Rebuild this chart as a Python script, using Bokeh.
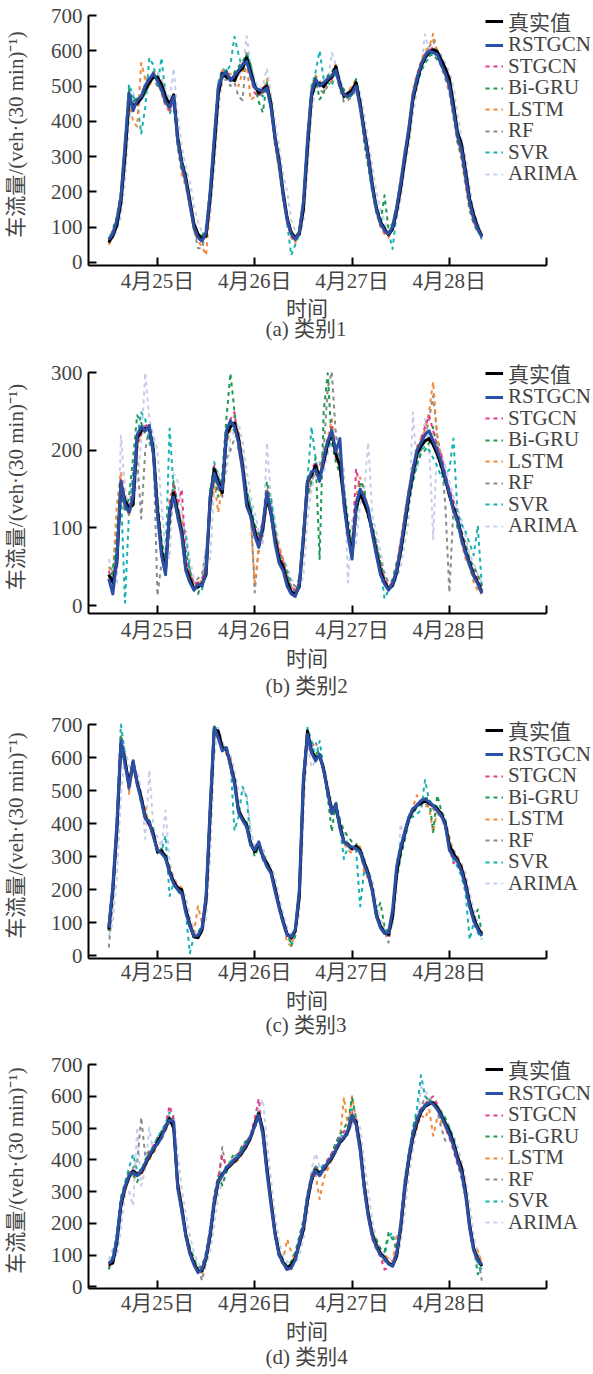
from bokeh.plotting import figure
from bokeh.models import FixedTicker, Legend, LegendItem, Title, Range1d
from bokeh.layouts import column
from bokeh.embed import file_html
from bokeh.resources import INLINE

FONT = "Liberation Serif, Noto Sans CJK SC"

# time axis: hours since 4月24日 00:00 (30-min data read at hourly points)
hours = list(range(12, 105))
tick_hours = [24, 48, 72, 96, 120]
tick_labels = ["4月25日", "4月26日", "4月27日", "4月28日", ""]
series_names = ["真实值", "RSTGCN", "STGCN", "Bi-GRU", "LSTM", "RF", "SVR", "ARIMA"]
captions = ["(a) 类别1", "(b) 类别2", "(c) 类别3", "(d) 类别4"]
x_label = "时间"
y_label = "车流量/(veh·(30 min)⁻¹)"

# ---------------- panel (a) ----------------
a_true = [57, 75, 105, 170, 300, 460, 445, 450, 465, 490,
          510, 525, 525, 505, 470, 448, 475, 355, 285, 240,
          175, 110, 80, 68, 75, 180, 320, 475, 535, 525,
          520, 515, 540, 550, 580, 540, 500, 480, 490, 500,
          450, 355, 290, 200, 125, 85, 70, 80, 150, 320,
          470, 510, 508, 498, 515, 525, 555, 505, 470, 480,
          488, 510, 450, 375, 305, 220, 155, 115, 95, 78,
          95, 145, 210, 290, 365, 460, 510, 555, 580, 595,
          603, 598, 575, 550, 520, 450, 370, 335, 260, 180,
          135, 100, 75]
a_rstgcn = [65, 80, 120, 185, 330, 480, 430, 460, 470, 500,
            520, 535, 515, 490, 455, 440, 470, 345, 280, 230,
            165, 100, 70, 60, 85, 200, 350, 495, 530, 540,
            515, 530, 545, 560, 570, 530, 495, 490, 485, 495,
            440, 350, 280, 190, 120, 80, 65, 85, 170, 345,
            480, 520, 500, 510, 520, 530, 545, 500, 475, 470,
            480, 500, 440, 365, 295, 210, 150, 110, 90, 80,
            100, 155, 225, 305, 380, 470, 520, 560, 585, 600,
            595, 590, 560, 535, 500, 430, 360, 320, 245, 170,
            125, 95, 72]
a_stgcn = [60, 85, 115, 190, 320, 470, 440, 455, 475, 505,
           515, 530, 520, 500, 460, 430, 465, 350, 270, 235,
           170, 105, 75, 55, 90, 195, 340, 490, 540, 530,
           525, 520, 540, 565, 575, 525, 480, 470, 495, 505,
           445, 345, 275, 195, 115, 75, 60, 90, 165, 335,
           485, 515, 505, 500, 525, 520, 550, 495, 480, 470,
           490, 505, 445, 360, 290, 215, 145, 105, 85, 75,
           105, 150, 220, 300, 370, 475, 515, 565, 590, 600,
           610, 585, 565, 540, 505, 440, 350, 310, 225, 160,
           115, 90, 70]
a_bigru = [55, 95, 130, 200, 340, 490, 455, 470, 460, 480,
           505, 540, 530, 490, 445, 450, 455, 330, 260, 250,
           180, 95, 70, 75, 100, 210, 360, 505, 520, 545,
           510, 540, 555, 570, 590, 560, 500, 455, 425, 510,
           460, 360, 270, 180, 130, 90, 60, 95, 180, 360,
           500, 525, 462, 480, 530, 540, 560, 510, 490, 462,
           475, 520, 460, 340, 270, 200, 140, 110, 190, 95,
           110, 160, 240, 310, 380, 480, 530, 545, 570, 585,
           590, 575, 560, 545, 510, 440, 345, 300, 230, 150,
           110, 85, 75]
a_lstm = [50, 70, 125, 195, 310, 455, 400, 385, 565, 520,
          495, 545, 510, 480, 440, 430, 460, 330, 250, 215,
          155, 90, 60, 45, 20, 170, 330, 500, 545, 535,
          535, 525, 500, 540, 565, 460, 470, 490, 480, 520,
          455, 330, 260, 175, 110, 70, 55, 100, 175, 350,
          490, 530, 515, 495, 505, 515, 565, 510, 470, 485,
          500, 520, 430, 340, 275, 210, 140, 100, 80, 70,
          110, 165, 230, 320, 390, 490, 535, 570, 600, 610,
          648, 600, 575, 525, 490, 420, 340, 290, 215, 145,
          110, 90, 75]
a_rf = [65, 90, 110, 180, 310, 470, 460, 465, 470, 510,
        530, 520, 500, 485, 455, 430, 460, 340, 265, 225,
        160, 95, 40, 40, 85, 190, 330, 480, 510, 520,
        500, 510, 470, 460, 600, 550, 505, 470, 480, 490,
        430, 340, 270, 190, 120, 85, 70, 95, 160, 330,
        470, 500, 490, 480, 500, 510, 540, 490, 455, 460,
        470, 490, 440, 360, 300, 225, 160, 120, 100, 85,
        105, 150, 210, 300, 375, 465, 520, 560, 590, 610,
        630, 590, 555, 520, 480, 410, 340, 300, 240, 175,
        125, 90, 70]
a_svr = [70, 80, 115, 200, 350, 505, 470, 455, 365, 440,
         580, 560, 500, 580, 475, 420, 450, 360, 290, 250,
         170, 100, 75, 60, 80, 210, 360, 510, 550, 540,
         560, 640, 590, 545, 590, 560, 500, 485, 470, 510,
         455, 355, 280, 190, 110, 20, 50, 80, 175, 350,
         495, 540, 600, 520, 510, 500, 540, 520, 475, 470,
         480, 515, 455, 355, 295, 225, 160, 125, 100, 85,
         38, 140, 215, 300, 380, 470, 500, 540, 565, 580,
         600, 580, 570, 545, 505, 445, 355, 310, 240, 165,
         120, 90, 65]
a_arima = [80, 70, 90, 130, 230, 400, 480, 440, 455, 480,
           500, 520, 540, 520, 490, 460, 550, 420, 330, 270,
           230, 160, 115, 85, 80, 130, 260, 420, 530, 520,
           515, 510, 530, 545, 642, 560, 520, 490, 500, 550,
           480, 400, 330, 250, 201, 120, 90, 80, 110, 260,
           420, 500, 515, 500, 510, 594, 560, 520, 480, 475,
           480, 500, 480, 420, 340, 270, 200, 150, 115, 95,
           90, 120, 180, 270, 330, 420, 490, 550, 647, 600,
           605, 600, 590, 565, 540, 500, 420, 350, 300, 210,
           150, 110, 85]

# ---------------- panel (b) ----------------
b_true = [40, 30, 55, 157, 135, 125, 130, 215, 225, 228,
          228, 200, 125, 72, 45, 120, 145, 120, 95, 48,
          35, 22, 24, 28, 40, 135, 176, 160, 145, 220,
          230, 235, 215, 180, 135, 118, 95, 78, 100, 140,
          118, 85, 60, 50, 30, 18, 14, 25, 85, 160,
          168, 180, 165, 185, 208, 222, 195, 180, 135, 95,
          65, 125, 145, 132, 118, 95, 68, 45, 30, 22,
          26, 42, 70, 103, 140, 170, 195, 205, 212, 215,
          207, 195, 180, 163, 142, 126, 112, 90, 70, 55,
          40, 30, 18]
b_rstgcn = [35, 15, 60, 160, 130, 120, 140, 220, 230, 225,
            232, 195, 118, 65, 40, 125, 140, 115, 90, 45,
            30, 20, 28, 25, 45, 140, 170, 155, 150, 225,
            238, 230, 210, 175, 128, 115, 90, 75, 105, 145,
            120, 80, 55, 45, 25, 15, 12, 28, 90, 160,
            172, 175, 160, 190, 212, 225, 198, 215, 130, 90,
            60, 130, 150, 140, 125, 92, 65, 40, 28, 20,
            28, 45, 75, 110, 145, 175, 200, 210, 220, 225,
            212, 200, 185, 165, 145, 122, 110, 85, 68, 52,
            38, 28, 16]
b_stgcn = [45, 25, 70, 165, 125, 130, 145, 210, 220, 235,
           225, 190, 130, 70, 50, 130, 155, 130, 150, 60,
           40, 28, 30, 35, 50, 130, 180, 150, 160, 215,
           240, 249, 205, 170, 140, 110, 100, 85, 110, 150,
           125, 90, 70, 55, 35, 22, 20, 30, 95, 150,
           175, 185, 170, 180, 205, 230, 190, 185, 145, 100,
           70, 176, 150, 140, 115, 100, 75, 50, 35, 25,
           30, 50, 80, 115, 150, 180, 190, 215, 230, 245,
           225, 205, 195, 170, 150, 135, 115, 95, 75, 55,
           45, 35, 20]
b_bigru = [30, 45, 80, 150, 120, 140, 190, 245, 235, 220,
           215, 210, 140, 85, 55, 110, 160, 130, 100, 70,
           45, 20, 15, 30, 55, 150, 165, 140, 170, 240,
           299, 250, 200, 175, 150, 125, 105, 90, 95, 160,
           130, 95, 65, 55, 40, 20, 10, 35, 100, 140,
           160, 190, 60, 250, 299, 210, 185, 170, 150, 110,
           80, 110, 160, 150, 110, 105, 80, 55, 35, 20,
           35, 55, 65, 100, 130, 160, 185, 195, 200, 210,
           230, 200, 175, 155, 150, 125, 100, 95, 80, 60,
           50, 40, 25]
b_lstm = [50, 40, 130, 172, 140, 115, 135, 200, 225, 230,
          225, 205, 135, 60, 50, 140, 150, 125, 110, 55,
          40, 30, 25, 35, 50, 125, 160, 120, 155, 210,
          225, 245, 220, 185, 140, 110, 30, 70, 95, 135,
          120, 95, 75, 60, 35, 25, 20, 30, 80, 145,
          165, 170, 170, 195, 215, 240, 200, 190, 140, 90,
          75, 140, 165, 150, 120, 95, 70, 50, 30, 20,
          30, 55, 85, 120, 150, 175, 205, 215, 225, 250,
          288, 215, 190, 165, 145, 120, 115, 80, 60, 50,
          30, 20, 15]
b_rf = [35, 40, 70, 140, 130, 120, 160, 190, 112, 200,
        230, 210, 13, 55, 60, 100, 140, 110, 95, 55,
        45, 30, 35, 40, 70, 120, 160, 160, 140, 190,
        200, 215, 225, 190, 150, 125, 17, 80, 90, 130,
        125, 100, 70, 60, 45, 30, 25, 35, 80, 140,
        160, 175, 180, 200, 280, 301, 220, 180, 140, 100,
        70, 120, 140, 130, 115, 100, 75, 60, 40, 30,
        30, 45, 70, 100, 140, 160, 190, 200, 215, 240,
        270, 220, 190, 130, 17, 125, 105, 85, 65, 50,
        40, 30, 20]
b_svr = [50, 45, 100, 150, 4, 120, 170, 215, 249, 240,
         210, 195, 120, 75, 60, 228, 150, 120, 100, 95,
         45, 20, 30, 20, 55, 145, 185, 165, 155, 205,
         230, 225, 210, 185, 145, 130, 100, 85, 95, 150,
         140, 100, 60, 55, 40, 25, 15, 35, 90, 160,
         230, 190, 160, 185, 200, 215, 205, 190, 150, 100,
         75, 135, 150, 145, 120, 100, 80, 50, 9, 20,
         25, 40, 65, 100, 135, 160, 180, 200, 205, 200,
         190, 180, 165, 170, 175, 215, 120, 105, 95, 80,
         65, 103, 25]
b_arima = [60, 40, 30, 219, 150, 120, 130, 160, 210, 300,
           240, 220, 200, 130, 70, 60, 170, 160, 120, 90,
           60, 35, 25, 30, 80, 60, 150, 175, 150, 170,
           215, 225, 235, 210, 175, 140, 120, 95, 80, 210,
           140, 110, 80, 60, 50, 35, 25, 20, 40, 110,
           150, 170, 185, 170, 195, 215, 225, 195, 175, 30,
           110, 80, 130, 150, 210, 115, 95, 70, 45, 30,
           25, 35, 50, 80, 110, 249, 175, 195, 240, 210,
           86, 210, 195, 180, 160, 140, 125, 110, 90, 65,
           55, 40, 30]

# ---------------- panel (c) ----------------
c_true = [80, 200, 380, 640, 590, 520, 585, 525, 480, 420,
          400, 370, 315, 318, 300, 255, 225, 205, 200, 140,
          95, 58, 55, 78, 170, 425, 685, 680, 630, 628,
          580, 530, 440, 415, 395, 340, 315, 340, 300, 280,
          255, 205, 150, 105, 65, 55, 75, 180, 520, 680,
          620, 600, 605, 565, 500, 440, 450, 395, 345, 338,
          325, 332, 320, 283, 250, 200, 125, 90, 70, 65,
          120, 250, 320, 370, 415, 440, 455, 462, 470, 462,
          455, 445, 430, 400, 335, 310, 290, 265, 220, 160,
          115, 85, 65]
c_rstgcn = [85, 210, 400, 650, 580, 510, 590, 520, 470, 415,
            405, 360, 320, 310, 295, 250, 218, 200, 190, 130,
            90, 60, 62, 85, 180, 450, 690, 660, 620, 630,
            575, 520, 435, 410, 390, 335, 320, 345, 300, 270,
            250, 195, 145, 100, 62, 58, 80, 200, 540, 670,
            615, 590, 610, 560, 495, 430, 460, 385, 345, 335,
            330, 325, 315, 275, 245, 195, 120, 85, 68, 70,
            140, 270, 330, 375, 420, 445, 455, 470, 475, 465,
            455, 440, 425, 395, 320, 300, 285, 255, 210, 150,
            105, 80, 60]
c_stgcn = [90, 190, 390, 655, 600, 500, 595, 515, 480, 410,
           395, 375, 325, 320, 290, 260, 225, 210, 195, 135,
           85, 55, 60, 90, 165, 440, 680, 655, 630, 620,
           590, 525, 430, 420, 385, 345, 315, 335, 295, 275,
           255, 200, 140, 95, 60, 50, 80, 195, 530, 660,
           610, 595, 600, 570, 490, 445, 455, 390, 350, 330,
           320, 330, 310, 280, 240, 200, 115, 90, 65, 60,
           130, 260, 320, 380, 420, 440, 460, 465, 470, 460,
           450, 445, 420, 395, 330, 280, 295, 260, 215, 160,
           110, 85, 65]
c_bigru = [75, 180, 370, 670, 610, 505, 580, 530, 460, 425,
           410, 380, 310, 325, 305, 245, 215, 195, 185, 145,
           100, 65, 55, 75, 185, 455, 695, 680, 620, 615,
           580, 520, 450, 420, 405, 345, 300, 330, 310, 285,
           260, 210, 155, 110, 70, 30, 60, 210, 550, 665,
           620, 610, 620, 560, 480, 375, 470, 410, 380, 360,
           345, 340, 305, 270, 240, 210, 130, 161, 90, 70,
           120, 232, 300, 350, 410, 430, 450, 460, 475, 480,
           374, 486, 440, 410, 345, 300, 280, 250, 205, 140,
           110, 140, 70]
c_lstm = [90, 195, 380, 640, 595, 490, 575, 520, 475, 450,
          390, 360, 330, 315, 290, 270, 230, 215, 205, 140,
          100, 70, 150, 100, 150, 430, 670, 665, 630, 610,
          600, 530, 430, 415, 395, 340, 315, 345, 305, 280,
          260, 210, 150, 100, 40, 30, 70, 190, 520, 650,
          610, 600, 610, 560, 500, 450, 440, 400, 340, 320,
          310, 335, 330, 250, 235, 190, 125, 90, 70, 60,
          115, 250, 310, 370, 420, 450, 486, 460, 455, 450,
          374, 440, 430, 400, 360, 310, 300, 275, 220, 160,
          115, 90, 70]
c_rf = [25, 160, 370, 630, 600, 515, 585, 530, 470, 420,
        395, 365, 315, 320, 300, 270, 230, 205, 200, 150,
        100, 70, 60, 80, 160, 410, 670, 670, 630, 620,
        590, 530, 445, 420, 400, 340, 330, 345, 300, 280,
        250, 200, 150, 105, 65, 60, 75, 180, 510, 660,
        630, 650, 600, 560, 505, 450, 455, 400, 350, 330,
        325, 330, 320, 280, 255, 200, 130, 95, 75, 40,
        110, 240, 320, 365, 410, 440, 450, 460, 460, 455,
        445, 430, 420, 390, 330, 320, 300, 270, 230, 160,
        120, 90, 65]
c_svr = [95, 220, 420, 700, 610, 500, 580, 520, 490, 430,
         410, 370, 320, 315, 364, 181, 220, 200, 190, 130,
         8, 60, 70, 95, 190, 460, 695, 660, 630, 620,
         590, 379, 420, 512, 480, 350, 310, 330, 290, 270,
         250, 200, 145, 100, 60, 40, 85, 210, 540, 690,
         650, 600, 650, 570, 480, 430, 440, 390, 293, 330,
         320, 320, 150, 260, 240, 195, 120, 90, 75, 80,
         130, 280, 340, 380, 420, 420, 430, 440, 532, 470,
         460, 450, 420, 400, 330, 290, 270, 240, 190, 49,
         100, 70, 50]
c_arima = [60, 100, 240, 480, 620, 580, 540, 560, 500, 354,
           562, 390, 360, 330, 440, 280, 240, 215, 200, 180,
           120, 80, 60, 70, 110, 300, 600, 690, 650, 620,
           610, 560, 500, 500, 490, 380, 330, 320, 330, 290,
           270, 240, 180, 130, 85, 60, 70, 130, 420, 640,
           570, 590, 610, 580, 520, 460, 430, 420, 370, 340,
           330, 320, 330, 300, 260, 230, 160, 110, 80, 70,
           90, 200, 400, 350, 400, 430, 450, 455, 465, 465,
           460, 450, 435, 420, 360, 320, 300, 280, 250, 190,
           140, 100, 75]

# ---------------- panel (d) ----------------
d_true = [70, 75, 140, 255, 310, 345, 365, 355, 360, 385,
          410, 430, 455, 478, 500, 530, 500, 320, 250, 165,
          110, 75, 50, 50, 90, 160, 262, 330, 355, 370,
          383, 395, 408, 425, 445, 470, 510, 545, 495, 375,
          270, 170, 105, 78, 60, 70, 90, 135, 180, 270,
          335, 368, 358, 370, 388, 405, 430, 455, 468, 490,
          535, 520, 440, 320, 230, 165, 130, 105, 92, 75,
          67, 97, 185, 310, 400, 470, 515, 550, 568, 575,
          580, 565, 540, 515, 490, 455, 410, 375, 300, 195,
          120, 90, 65]
d_rstgcn = [75, 85, 150, 265, 315, 350, 360, 350, 365, 390,
            415, 435, 450, 470, 505, 525, 520, 310, 240, 160,
            105, 70, 45, 55, 95, 170, 270, 335, 350, 375,
            385, 400, 410, 430, 450, 475, 505, 540, 480, 360,
            260, 165, 100, 75, 55, 60, 85, 140, 190, 280,
            340, 365, 350, 375, 390, 410, 430, 460, 470, 495,
            540, 510, 430, 310, 220, 160, 125, 100, 90, 72,
            65, 105, 195, 320, 410, 480, 525, 555, 570, 580,
            575, 560, 535, 510, 480, 445, 400, 360, 290, 185,
            115, 85, 70]
d_stgcn = [65, 90, 155, 270, 320, 355, 370, 345, 360, 395,
           420, 445, 460, 480, 510, 570, 530, 325, 230, 155,
           100, 65, 55, 60, 100, 175, 280, 345, 413, 380,
           390, 405, 420, 440, 455, 480, 530, 592, 470, 355,
           250, 160, 95, 70, 50, 55, 90, 150, 200, 290,
           350, 375, 355, 380, 400, 420, 440, 470, 490, 500,
           550, 500, 420, 300, 215, 150, 120, 95, 55, 60,
           75, 115, 210, 330, 415, 485, 530, 560, 575, 590,
           600, 575, 545, 500, 470, 430, 385, 350, 280, 175,
           105, 85, 75]
d_bigru = [55, 95, 165, 280, 325, 360, 355, 330, 365, 400,
           425, 430, 470, 490, 510, 540, 510, 330, 235, 170,
           125, 90, 60, 65, 110, 185, 290, 350, 320, 360,
           400, 420, 415, 450, 460, 470, 520, 555, 490, 370,
           265, 175, 115, 85, 65, 80, 110, 160, 210, 295,
           355, 380, 360, 375, 395, 420, 450, 480, 500, 520,
           597, 530, 440, 310, 230, 170, 150, 120, 110, 170,
           150, 120, 200, 340, 420, 500, 540, 560, 575, 590,
           580, 570, 550, 530, 500, 470, 410, 380, 300, 190,
           130, 40, 60]
d_lstm = [60, 85, 135, 250, 300, 340, 345, 365, 350, 380,
          400, 420, 445, 465, 490, 520, 515, 340, 260, 175,
          115, 80, 55, 45, 85, 155, 250, 320, 350, 365,
          380, 390, 400, 420, 440, 465, 500, 530, 500, 380,
          280, 175, 110, 85, 150, 110, 80, 130, 175, 265,
          330, 355, 276, 340, 370, 400, 435, 465, 597, 500,
          600, 525, 450, 330, 240, 175, 140, 110, 100, 90,
          80, 160, 170, 290, 390, 460, 500, 540, 530, 560,
          476, 530, 520, 500, 480, 450, 415, 380, 310, 200,
          130, 115, 75]
d_rf = [80, 70, 145, 260, 315, 360, 375, 390, 534, 410,
        430, 440, 460, 485, 500, 520, 510, 345, 260, 170,
        115, 80, 60, 20, 80, 150, 260, 325, 440, 365,
        380, 390, 405, 420, 440, 465, 500, 535, 500, 385,
        275, 180, 110, 80, 60, 75, 95, 130, 175, 260,
        330, 360, 350, 360, 380, 400, 425, 450, 470, 480,
        520, 515, 450, 340, 240, 175, 135, 100, 80, 70,
        70, 100, 180, 300, 390, 465, 510, 560, 600, 580,
        575, 555, 500, 460, 470, 440, 400, 340, 280, 200,
        125, 100, 20]
d_svr = [60, 100, 170, 280, 330, 375, 418, 365, 370, 390,
         420, 445, 470, 490, 515, 550, 520, 330, 240, 165,
         110, 70, 55, 55, 100, 175, 275, 345, 360, 380,
         395, 410, 420, 445, 460, 475, 510, 550, 485, 370,
         265, 165, 100, 75, 55, 70, 95, 150, 195, 285,
         350, 380, 370, 385, 400, 420, 455, 480, 470, 500,
         560, 515, 435, 315, 230, 165, 140, 110, 95, 160,
         170, 110, 190, 320, 420, 500, 560, 666, 600, 590,
         575, 570, 550, 520, 500, 460, 410, 370, 290, 185,
         115, 75, 40]
d_arima = [85, 120, 95, 180, 290, 300, 255, 503, 318, 370,
           500, 420, 470, 480, 500, 520, 540, 420, 310, 230,
           160, 110, 75, 60, 70, 110, 190, 290, 330, 360,
           380, 395, 405, 420, 440, 470, 500, 560, 590, 460,
           340, 230, 140, 100, 80, 65, 70, 100, 150, 230,
           371, 420, 380, 360, 380, 400, 420, 445, 470, 490,
           510, 540, 500, 400, 300, 210, 150, 120, 100, 90,
           80, 85, 140, 240, 350, 430, 500, 629, 620, 590,
           585, 570, 555, 535, 500, 480, 440, 400, 340, 260,
           160, 110, 85]

panels = [
    [a_true, a_rstgcn, a_stgcn, a_bigru, a_lstm, a_rf, a_svr, a_arima],
    [b_true, b_rstgcn, b_stgcn, b_bigru, b_lstm, b_rf, b_svr, b_arima],
    [c_true, c_rstgcn, c_stgcn, c_bigru, c_lstm, c_rf, c_svr, c_arima],
    [d_true, d_rstgcn, d_stgcn, d_bigru, d_lstm, d_rf, d_svr, d_arima],
]
y_limits = [(-9, 700), (-10, 300), (-8, 700), (-5, 700)]
y_tick_sets = [list(range(0, 701, 100)), [0, 100, 200, 300],
               list(range(0, 701, 100)), list(range(0, 701, 100))]
x_limits = (7, 120)

# ---- styles (not data) ----
colors = ["#000000", "#2b4fa5", "#e4388a", "#1d9a52", "#f28a3c", "#8c8c8c", "#16b2b2", "#c6cdec"]
widths = [3, 3, 2, 2, 2, 2, 2, 2]
dashes = ["solid", "solid", "4 4", "4 4", "4 4", "4 4", "4 4", "4 4"]
draw_order = [7, 5, 6, 4, 3, 2, 0, 1]   # dashed models underneath, then truth, RSTGCN on top

LEFT = 86           # frame left (axis line)
AXIS_W = 460        # pixel length of the x axis (7h .. 120h)
FRAME_W = 593 - LEFT
EXT = 12            # px of headroom above the top tick (room for the legend)
LEG_X = 397
LEG_PITCH = 21.5
LEG_HALF = 12.5     # half height of one legend row
# per panel: fig height, border top, frame height (incl. EXT), border bottom,
# first legend row centre above the x axis, tick-label standoff, x-label standoff, caption standoff
layouts = [
    (348, 3, 262, 83, 265 - 23.3, 3, -2, -9),
    (357, 12, 253, 92, 613 - 375.0, 4, 1, 0),
    (338, 7, 246, 85, 958 - 732.7, 1, 0, -3),
    (331, 9, 236, 86, 1288 - 1071.7, 2, 0, -2),
]


def make_panel(k):
    H, bt, fh, bb, leg0, tls, xls, cs = layouts[k]
    ylo, yhi = y_limits[k]
    px_per_unit = (fh - EXT) / (yhi - ylo)
    y_top = yhi + EXT / px_per_unit
    x_end = x_limits[0] + FRAME_W * (x_limits[1] - x_limits[0]) / AXIS_W
    p = figure(width=593, height=H, title=None,
               x_range=Range1d(x_limits[0], x_end), y_range=Range1d(ylo, y_top),
               output_backend="svg", toolbar_location=None,
               min_border_left=LEFT, min_border_right=0,
               min_border_top=bt, min_border_bottom=bb)
    p.xgrid.visible = False
    p.ygrid.visible = False
    p.outline_line_color = None
    p.background_fill_color = "white"

    renderers = [None] * 8
    for i in draw_order:
        vals = panels[k][i]
        xs = hours[:len(vals)]
        renderers[i] = p.line(xs, vals, line_color=colors[i], line_width=widths[i],
                              line_dash=dashes[i], line_join="round")

    p.xaxis.ticker = FixedTicker(ticks=tick_hours)
    p.xaxis.major_label_overrides = {t: l for t, l in zip(tick_hours, tick_labels)}
    p.xaxis.bounds = x_limits
    p.yaxis.ticker = FixedTicker(ticks=y_tick_sets[k])
    p.yaxis.bounds = (ylo, yhi)
    p.yaxis.axis_label = y_label
    for ax in (p.xaxis[0], p.yaxis[0]):
        ax.axis_line_width = 2
        ax.major_tick_line_width = 2
        ax.major_tick_in = 8
        ax.major_tick_out = 0
        ax.minor_tick_line_color = None
        ax.major_label_text_font = FONT
        ax.major_label_text_font_size = "21px"
        ax.axis_label_text_font = FONT
        ax.axis_label_text_font_size = "21px"
        ax.axis_label_text_font_style = "normal"
    p.xaxis.major_label_standoff = tls
    p.yaxis.major_label_standoff = 6
    p.yaxis.axis_label_standoff = 20

    # one single-row legend per series, so the row pitch matches the reference
    for i in range(8):
        ly = leg0 - LEG_PITCH * i - LEG_HALF
        legend = Legend(items=[LegendItem(label=series_names[i], renderers=[renderers[i]])],
                        location=(LEG_X, ly),
                        label_text_font=FONT, label_text_font_size="21px",
                        glyph_width=18, glyph_height=20, label_height=20,
                        label_standoff=5, spacing=0, padding=0, margin=0,
                        border_line_color=None, background_fill_alpha=0)
        p.add_layout(legend)

    xt = Title(text=x_label, align="left", offset=304.5 - 21 - LEFT, text_font=FONT,
               text_font_size="21px", text_font_style="normal", standoff=xls)
    p.add_layout(xt, "below")
    cap = Title(text=captions[k], align="left", offset=304 - 41 - LEFT, text_font=FONT,
                text_font_size="21px", text_font_style="normal", standoff=cs)
    p.add_layout(cap, "below")
    return p


figs = [make_panel(k) for k in range(4)]
layout = column(*figs)
open("out.html", "w").write(file_html(layout, INLINE))
